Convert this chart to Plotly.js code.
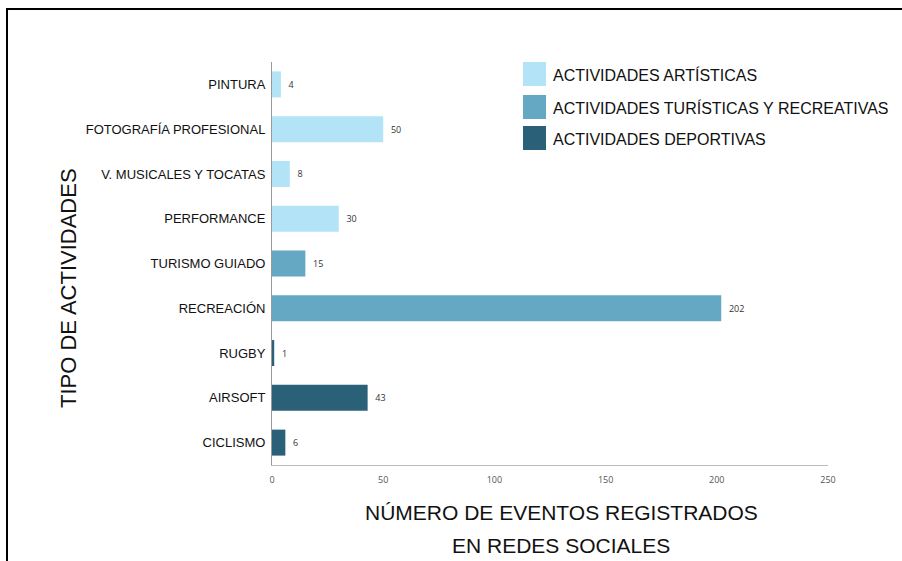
<!DOCTYPE html>
<html>
<head>
<meta charset="utf-8">
<script src="https://cdn.plot.ly/plotly-3.0.1.min.js"></script>
<style>
  html, body { margin: 0; padding: 0; background: #ffffff; }
  #chart { width: 902px; height: 561px; }
</style>
</head>
<body>
<div id="chart"></div>
<script>
// Categories (top to bottom) grouped by activity type
const artisticCats = ["PINTURA", "FOTOGRAFÍA PROFESIONAL", "V. MUSICALES Y TOCATAS", "PERFORMANCE"];
const artisticVals = [4, 50, 8, 30];

const touristCats = ["TURISMO GUIADO", "RECREACIÓN"];
const touristVals = [15, 202];

const sportCats = ["RUGBY", "AIRSOFT", "CICLISMO"];
const sportVals = [1, 43, 6];

const groupNames = ["ACTIVIDADES ARTÍSTICAS", "ACTIVIDADES TURÍSTICAS Y RECREATIVAS", "ACTIVIDADES DEPORTIVAS"];
const groupColors = ["#B3E3F6", "#64A8C3", "#2B6079"];

const xTicks = [0, 50, 100, 150, 200, 250];
const xTitleLines = ["NÚMERO DE EVENTOS REGISTRADOS", "EN REDES SOCIALES"];
const yTitle = "TIPO DE ACTIVIDADES";

const allCats = artisticCats.concat(touristCats, sportCats);

function mk(cats, vals, i) {
  return {
    type: "bar",
    orientation: "h",
    y: cats,
    x: vals,
    name: groupNames[i],
    marker: { color: groupColors[i] },
    text: vals.map(v => "  " + v),
    textposition: "outside",
    cliponaxis: false,
    textfont: { family: "Open Sans, Arial, sans-serif", size: 9, color: "#333333" },
    hoverinfo: "x+y",
    showlegend: false
  };
}

const data = [
  mk(artisticCats, artisticVals, 0),
  mk(touristCats, touristVals, 1),
  mk(sportCats, sportVals, 2)
];

// Legend drawn as large swatches + text (paper coords)
const plotL = 272, plotR = 828, plotT = 62, plotB = 465;
const pw = plotR - plotL, ph = plotB - plotT;
const px = p => (p - plotL) / pw;
const py = p => (plotB - p) / ph;

const swatchTops = [62, 95, 126];
const shapes = [];
const annotations = [];
groupNames.forEach((n, i) => {
  shapes.push({
    type: "rect", xref: "paper", yref: "paper",
    x0: px(523), x1: px(546), y0: py(swatchTops[i] + 24), y1: py(swatchTops[i]),
    fillcolor: groupColors[i], line: { width: 0 }
  });
  annotations.push({
    xref: "paper", yref: "paper", x: px(551), y: py(swatchTops[i] + 13),
    xanchor: "left", yanchor: "middle", showarrow: false, text: n,
    font: { family: "Arial, Liberation Sans, sans-serif", size: 16, color: "#111111" }
  });
});

// outer frame
shapes.push({
  type: "rect", xref: "paper", yref: "paper",
  x0: px(7), x1: px(920), y0: py(580), y1: py(9),
  line: { color: "#000000", width: 2 }, fillcolor: "rgba(0,0,0,0)"
});

// Y title
annotations.push({
  xref: "paper", yref: "paper", x: px(68), y: py(288),
  xanchor: "center", yanchor: "middle", showarrow: false, textangle: -90,
  text: yTitle,
  font: { family: "Arial, Liberation Sans, sans-serif", size: 22, color: "#111111" }
});

// X title (two lines)
const xTitleY = [512, 545];
xTitleLines.forEach((t, i) => {
  annotations.push({
    xref: "paper", yref: "paper", x: px(561), y: py(xTitleY[i]),
    xanchor: "center", yanchor: "middle", showarrow: false,
    text: t,
    font: { family: "Arial, Liberation Sans, sans-serif", size: 21, color: "#111111" }
  });
});

const layout = {
  width: 902, height: 561,
  margin: { l: plotL, r: 902 - plotR, t: plotT, b: 561 - plotB, pad: 0 },
  paper_bgcolor: "#ffffff",
  plot_bgcolor: "#ffffff",
  barmode: "overlay",
  bargap: 0.42,
  showlegend: false,
  xaxis: {
    range: [0, 250],
    tickvals: xTicks,
    ticktext: xTicks.map(String),
    showgrid: false,
    zeroline: false,
    showline: true,
    linecolor: "#bbbbbb",
    linewidth: 1,
    ticks: "",
    ticklabelstandoff: 6,
    tickfont: { family: "Open Sans, Arial, sans-serif", size: 9, color: "#555555" }
  },
  yaxis: {
    type: "category",
    categoryorder: "array",
    categoryarray: allCats,
    autorange: "reversed",
    showgrid: false,
    zeroline: false,
    showline: true,
    linecolor: "#999999",
    linewidth: 1,
    ticks: "",
    ticklabelstandoff: 3,
    tickfont: { family: "Arial, Liberation Sans, sans-serif", size: 13, color: "#111111" }
  },
  shapes: shapes,
  annotations: annotations
};

Plotly.newPlot("chart", data, layout, { displayModeBar: false, staticPlot: true });
</script>
</body>
</html>
